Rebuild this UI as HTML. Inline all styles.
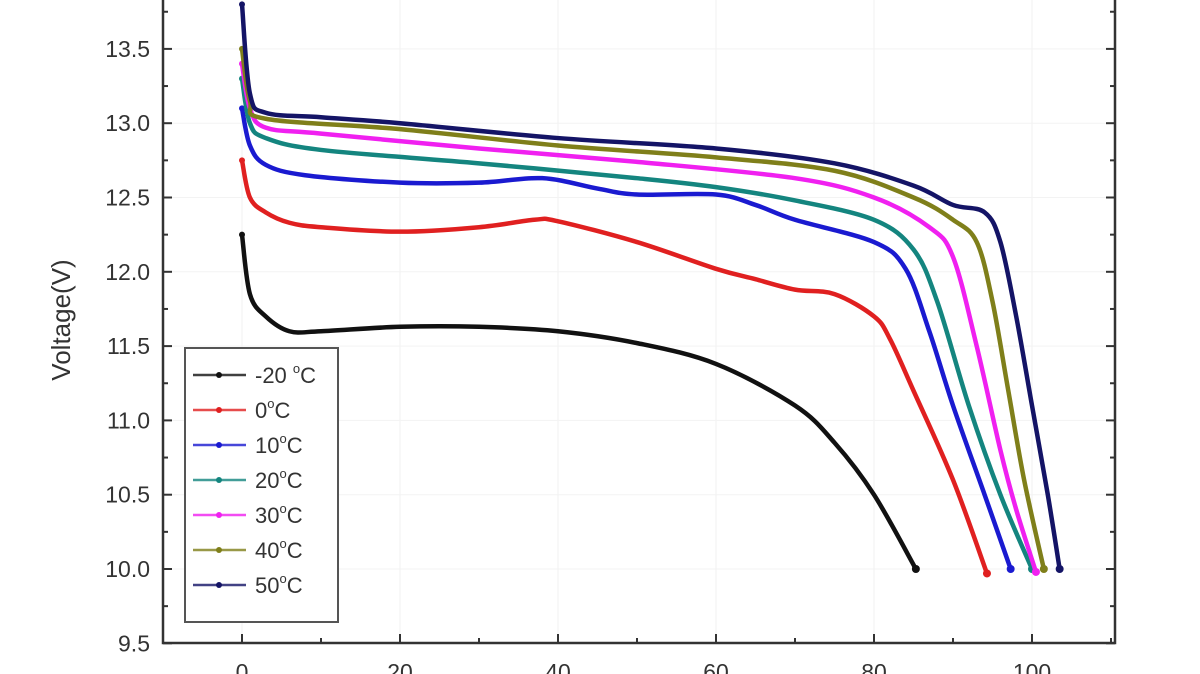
<!DOCTYPE html><html><head><style>body{margin:0;background:#fff}svg{display:block}text{font-family:"Liberation Sans",sans-serif;fill:#333}</style></head><body>
<svg id="s" width="1200" height="674" viewBox="0 0 1200 674"></svg>
<script>
const s=document.getElementById('s');let h='';
const X=x=>242+7.9*x, Y=v=>569-(v-10)*148.6;
for(let x=0;x<=100;x+=20)h+=`<line x1="${X(x)}" y1="0" x2="${X(x)}" y2="643" stroke="#f0f0f0"/>`;
for(let v=9.5;v<=14;v+=0.5)h+=`<line x1="163" y1="${Y(v)}" x2="1115" y2="${Y(v)}" stroke="#f3f3f3"/>`;
h+=`<path d="M163 0V643H1115V0" fill="none" stroke="#333" stroke-width="2.5"/>`;
for(let v=9.5;v<=14.01;v+=0.25){const mj=Math.abs(v*2-Math.round(v*2))<0.01;const l=mj?9:5;
h+=`<line x1="163" y1="${Y(v)}" x2="${163+l}" y2="${Y(v)}" stroke="#333" stroke-width="2"/><line x1="1115" y1="${Y(v)}" x2="${1115-l}" y2="${Y(v)}" stroke="#333" stroke-width="2"/>`;
if(mj)h+=`<text x="150" y="${Y(v)+8}" font-size="23" text-anchor="end">${v.toFixed(1)}</text>`;}
for(let x=-10;x<=110;x+=10){const mj=x%20==0;const l=mj?9:5;h+=`<line x1="${X(x)}" y1="643" x2="${X(x)}" y2="${643-l}" stroke="#333" stroke-width="2"/>`;
if(mj&&x>=0&&x<=100)h+=`<text x="${X(x)}" y="680" font-size="23" text-anchor="middle">${x}</text>`;}
h+=`<text transform="translate(70,320) rotate(-90)" font-size="26" text-anchor="middle">Voltage(V)</text>`;
const D=[
['#111',[[0,12.25],[1,11.85],[3,11.7],[6,11.6],[10,11.6],[20,11.63],[30,11.63],[40,11.6],[50,11.52],[60,11.38],[70,11.1],[75,10.85],[80,10.5],[85.3,10.0]]],
['#e02020',[[0,12.75],[1,12.5],[3,12.4],[6,12.33],[10,12.3],[20,12.27],[30,12.3],[37,12.35],[40,12.34],[50,12.2],[60,12.02],[65,11.95],[70,11.88],[75,11.85],[80,11.7],[82,11.55],[85,11.2],[90,10.6],[94.3,9.97]]],
['#1a1ad0',[[0,13.1],[1,12.85],[3,12.72],[8,12.65],[20,12.6],[30,12.6],[38,12.63],[45,12.56],[50,12.52],[60,12.52],[65,12.45],[70,12.35],[80,12.2],[84,12.02],[87,11.6],[90,11.1],[94,10.5],[97.3,10.0]]],
['#14857f',[[0,13.3],[1,13.0],[3,12.9],[10,12.82],[30,12.73],[50,12.63],[60,12.57],[70,12.48],[80,12.35],[85,12.15],[88,11.8],[92,11.1],[96,10.5],[100,10.0]]],
['#f020f0',[[0,13.4],[1,13.1],[3,12.97],[10,12.93],[30,12.83],[50,12.74],[70,12.63],[80,12.5],[87,12.3],[90,12.1],[93,11.5],[96,10.8],[98,10.4],[100.5,9.98]]],
['#7f7f1a',[[0,13.5],[1,13.15],[3,13.03],[20,12.96],[40,12.85],[60,12.77],[75,12.68],[85,12.5],[90,12.35],[93,12.2],[95,11.8],[97,11.2],[99,10.6],[101.5,10.0]]],
['#141466',[[0,13.8],[1,13.2],[3,13.07],[10,13.04],[20,13.0],[40,12.9],[60,12.83],[75,12.73],[85,12.58],[90,12.45],[94,12.4],[96,12.2],[98,11.7],[100,11.1],[102,10.5],[103.5,10.0]]]];
for(const [c,p] of D){const P=p.map(a=>[X(a[0]),Y(a[1])]);let d=`M${P[0]}`;
for(let i=0;i<P.length-1;i++){const p0=P[Math.max(0,i-1)],p1=P[i],p2=P[i+1],p3=P[Math.min(P.length-1,i+2)];
d+=`C${p1[0]+(p2[0]-p0[0])/6},${p1[1]+(p2[1]-p0[1])/6} ${p2[0]-(p3[0]-p1[0])/6},${p2[1]-(p3[1]-p1[1])/6} ${p2[0]},${p2[1]}`;}
h+=`<path d="${d}" fill="none" stroke="${c}" stroke-width="4.5" stroke-linejoin="round"/>`;
h+=`<circle cx="${P[P.length-1][0]}" cy="${P[P.length-1][1]}" r="4" fill="${c}"/><circle cx="${P[0][0]}" cy="${P[0][1]}" r="3" fill="${c}"/>`;}
h+=`<rect x="185" y="348" width="153" height="274" fill="#fff" stroke="#555" stroke-width="2"/>`;
const L=['-20 ','0','10','20','30','40','50'];
L.forEach((t,i)=>{const y=375+i*35;const c=D[i][0];
h+=`<line x1="193" y1="${y}" x2="246" y2="${y}" stroke="${c}" stroke-width="2.5" opacity=".8"/><circle cx="219" cy="${y}" r="3" fill="${c}"/>`;
h+=`<text x="255" y="${y+8}" font-size="22">${t}<tspan dy="-10" font-size="13">o</tspan><tspan dy="10">C</tspan></text>`;});
s.innerHTML=h;
</script></body></html>
